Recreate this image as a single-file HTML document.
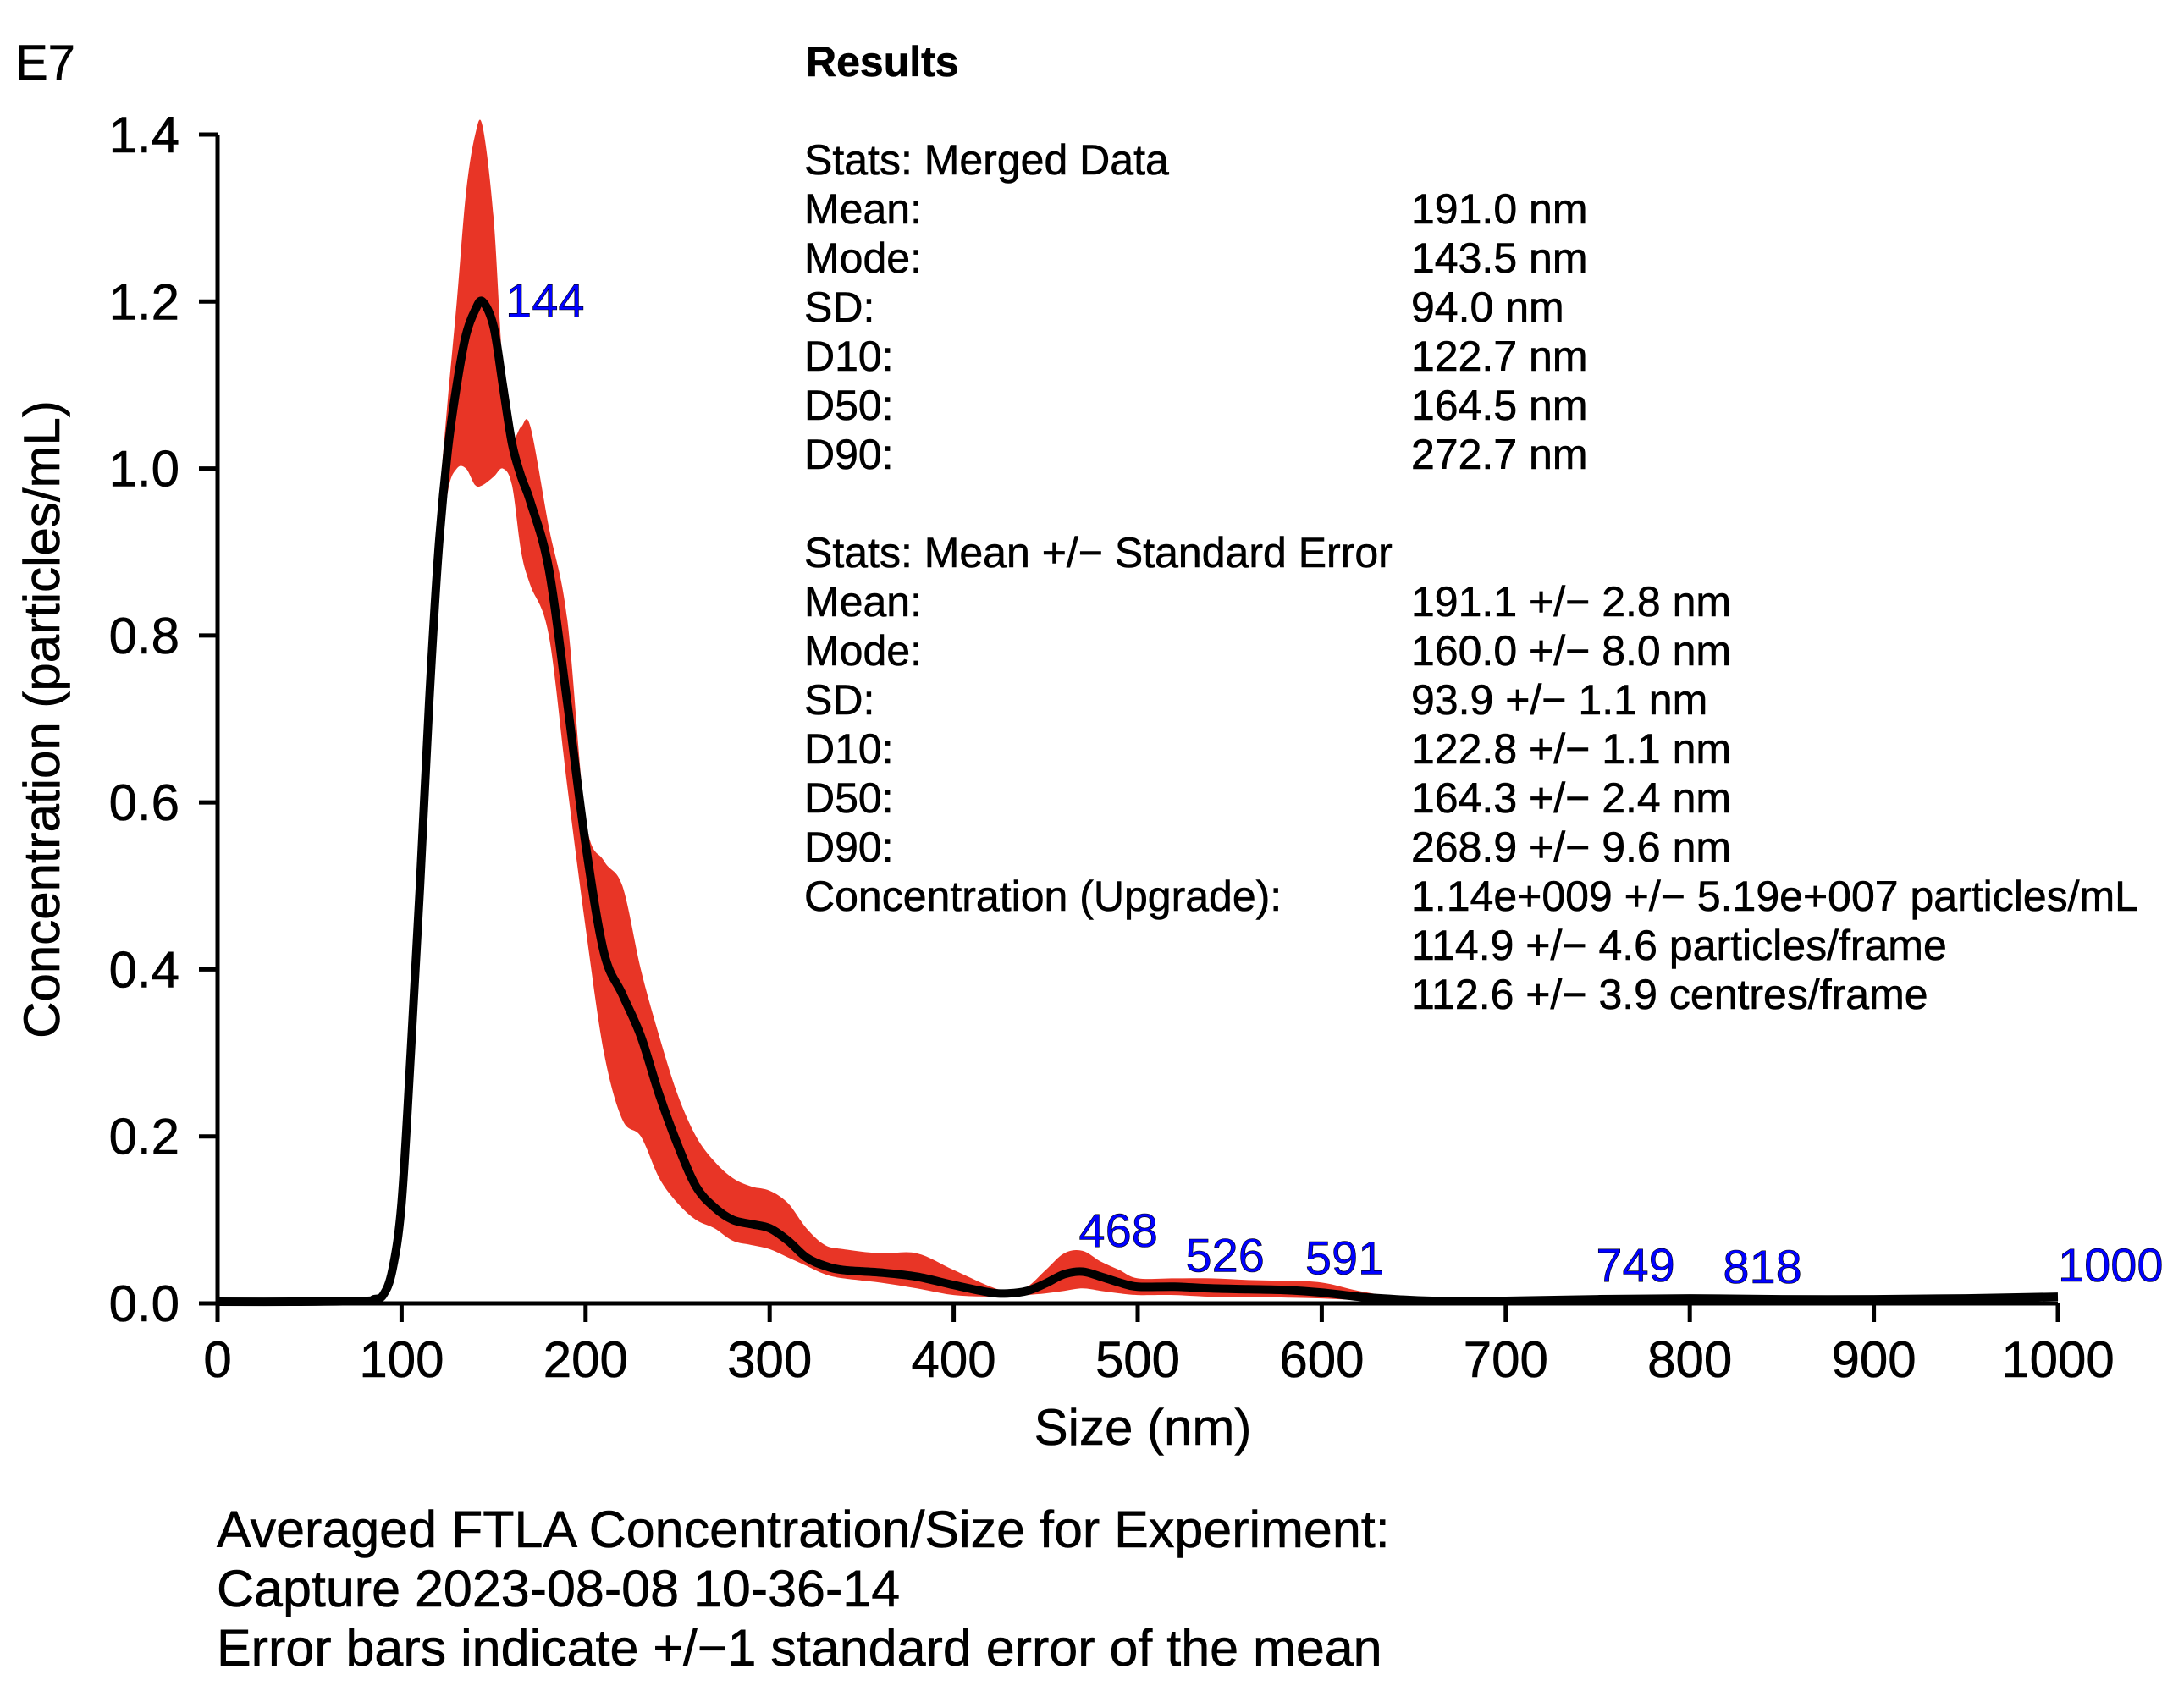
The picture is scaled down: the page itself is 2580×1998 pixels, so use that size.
<!DOCTYPE html>
<html><head><meta charset="utf-8"><style>
html,body{margin:0;padding:0;background:#fff;}
svg{display:block;font-family:"Liberation Sans",Arial,sans-serif;}
text{stroke:#000;stroke-width:0.6;}
</style></head><body>
<svg id="chart" width="2580" height="1998" viewBox="0 0 2580 1998">
<g id="band"></g>
<g id="line"></g>
<g id="axes"></g>
<g id="peaks"></g>
<text x="18" y="94" font-size="58">E7</text>
<text x="0" y="0" font-size="60" text-anchor="middle" transform="translate(70,850) rotate(-90)">Concentration (particles/mL)</text>
<text x="1350" y="1707" font-size="60" text-anchor="middle">Size (nm)</text>
<g font-size="50">
<text x="952" y="90" font-weight="bold">Results</text>
<g id="stats"></g>
</g>
<g font-size="61">
<text x="256" y="1828">Averaged FTLA Concentration/Size for Experiment:</text>
<text x="256" y="1898">Capture 2023-08-08 10-36-14</text>
<text x="256" y="1968">Error bars indicate +/−1 standard error of the mean</text>
</g>
</svg>
<script>
const sizes = [0,40,80,85,90,95,100,105,110,115,120,125,130,135,140,144,150,155,160,165,170,180,190,200,210,220,230,240,250,260,270,280,290,300,310,320,330,340,360,380,400,420,430,440,450,460,470,480,490,500,520,540,560,580,600,620,640,660,700,750,800,850,900,950,1000];
const meanVals = [0.002,0.002,0.003,0.005,0.01,0.04,0.12,0.3,0.5,0.72,0.9,1.02,1.1,1.16,1.19,1.2,1.17,1.1,1.03,0.99,0.96,0.88,0.72,0.55,0.42,0.37,0.32,0.25,0.19,0.14,0.115,0.1,0.095,0.09,0.075,0.055,0.045,0.04,0.037,0.032,0.022,0.013,0.012,0.015,0.024,0.035,0.038,0.032,0.025,0.02,0.02,0.018,0.017,0.016,0.013,0.008,0.005,0.003,0.003,0.005,0.006,0.005,0.005,0.006,0.008];
const upperVals = [0.002,0.002,0.003,0.006,0.012,0.045,0.13,0.32,0.55,0.8,0.95,1.08,1.2,1.33,1.4,1.41,1.3,1.12,1.04,1.05,1.05,0.93,0.82,0.58,0.53,0.5,0.4,0.32,0.25,0.2,0.17,0.15,0.14,0.135,0.12,0.09,0.07,0.065,0.06,0.06,0.04,0.02,0.015,0.02,0.04,0.06,0.063,0.05,0.04,0.03,0.03,0.03,0.028,0.027,0.025,0.015,0.008,0.004,0.004,0.008,0.007,0.006,0.006,0.007,0.009];
const lowerVals = [0.001,0.001,0.002,0.004,0.008,0.035,0.11,0.28,0.45,0.65,0.86,0.97,1.0,1.0,0.98,0.98,0.99,1.0,0.98,0.9,0.86,0.8,0.62,0.45,0.3,0.22,0.2,0.15,0.12,0.1,0.09,0.075,0.07,0.065,0.055,0.045,0.035,0.03,0.025,0.018,0.01,0.008,0.008,0.01,0.012,0.015,0.018,0.015,0.012,0.01,0.01,0.008,0.008,0.007,0.006,0.004,0.003,0.002,0.002,0.003,0.004,0.004,0.004,0.005,0.007];
const xTicks = [0,100,200,300,400,500,600,700,800,900,1000];
const yTicks = [0.0,0.2,0.4,0.6,0.8,1.0,1.2,1.4];
const peakSizes = [144,468,526,591,749,818,1000];
const peakLabelVals = [1.2,0.06,0.03,0.027,0.018,0.016,0.018];
const statLabels = ["Stats: Merged Data","Mean:","Mode:","SD:","D10:","D50:","D90:","","Stats: Mean +/− Standard Error","Mean:","Mode:","SD:","D10:","D50:","D90:","Concentration (Upgrade):","",""];
const statValues = ["","191.0 nm","143.5 nm","94.0 nm","122.7 nm","164.5 nm","272.7 nm","","","191.1 +/− 2.8 nm","160.0 +/− 8.0 nm","93.9 +/− 1.1 nm","122.8 +/− 1.1 nm","164.3 +/− 2.4 nm","268.9 +/− 9.6 nm","1.14e+009 +/− 5.19e+007 particles/mL","114.9 +/− 4.6 particles/frame","112.6 +/− 3.9 centres/frame"];

const NS="http://www.w3.org/2000/svg";
const X0=257,X1=2431,Y0=1540,Y1=159;
function sx(v){return X0+(v/1000)*(X1-X0);}
function sy(v){return Y0-(v/1.4)*(Y0-Y1);}
function mk(tag,attrs,parent){const e=document.createElementNS(NS,tag);for(const k in attrs)e.setAttribute(k,attrs[k]);parent.appendChild(e);return e;}
function smooth(p,start){
  let d=start?('M'+p[0][0]+','+p[0][1]):('L'+p[0][0]+','+p[0][1]);
  for(let i=0;i<p.length-1;i++){
    const a=p[Math.max(i-1,0)],b=p[i],c=p[i+1],e=p[Math.min(i+2,p.length-1)];
    const c1=[b[0]+(c[0]-a[0])/6,b[1]+(c[1]-a[1])/6],c2=[c[0]-(e[0]-b[0])/6,c[1]-(e[1]-b[1])/6];
    d+=' C'+c1[0]+','+c1[1]+' '+c2[0]+','+c2[1]+' '+c[0]+','+c[1];
  }
  return d;
}

const band=document.getElementById('band');
const up=sizes.map((s,i)=>[sx(s),sy(upperVals[i])]);
const lo=sizes.map((s,i)=>[sx(s),sy(lowerVals[i])]).reverse();
const bp=mk('path',{d:smooth(up,true)+' '+smooth(lo,false)+' Z',fill:'#e83526'},band);



const line=document.getElementById('line');
const mp=mk('path',{d:smooth(sizes.map((s,i)=>[sx(s),sy(meanVals[i])]),true),fill:'none',stroke:'#000','stroke-width':10,'stroke-linejoin':'round'},line);



const axes=document.getElementById('axes');
mk('line',{x1:X0,y1:Y0,x2:X1,y2:Y0,stroke:'#000','stroke-width':5},axes);
mk('line',{x1:X0,y1:Y0+2,x2:X0,y2:Y1,stroke:'#000','stroke-width':5},axes);
xTicks.forEach(t=>{
  mk('line',{x1:sx(t),y1:Y0,x2:sx(t),y2:Y0+22,stroke:'#000','stroke-width':5},axes);
  const tx=mk('text',{x:sx(t),y:1627,'font-size':60,'text-anchor':'middle'},axes);
  tx.textContent=String(t);
  
  
});
yTicks.forEach(t=>{
  mk('line',{x1:X0-22,y1:sy(t),x2:X0,y2:sy(t),stroke:'#000','stroke-width':5},axes);
  const tx=mk('text',{x:X0-45,y:sy(t)+21,'font-size':60,'text-anchor':'end'},axes);
  tx.textContent=t.toFixed(1);
  
  
});

const peaks=document.getElementById('peaks');
peakSizes.forEach((p,i)=>{
  const tx=mk('text',{x:sx(p)+(i===0?27:0),y:sy(peakLabelVals[i])-(i===0?-18:8),'font-size':56,fill:'#0000ff',stroke:'#0000ff'},peaks);
  tx.textContent=String(p);
  
  
});

const stats=document.getElementById('stats');
statLabels.forEach((l,i)=>{
  const y=206+i*58;
  if(l){const t=mk('text',{x:950,y:y},stats);t.textContent=l;
    
    }
  if(statValues[i]){const t=mk('text',{x:1667,y:y},stats);t.textContent=statValues[i];
    
    }
});
</script>
</body></html>
